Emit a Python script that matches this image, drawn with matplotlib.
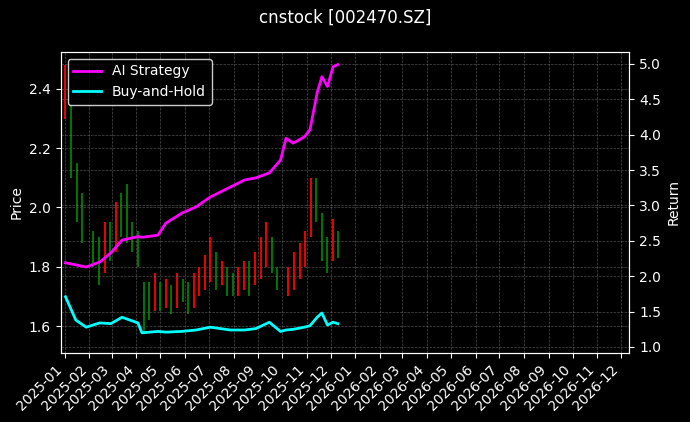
import matplotlib
matplotlib.use('Agg')
import matplotlib.pyplot as plt
import matplotlib.dates as mdates
import pandas as pd

# weekly price bars
weeks = ['2025-01-02', '2025-01-09', '2025-01-16', '2025-01-23', '2025-02-06', '2025-02-13',
         '2025-02-20', '2025-02-27', '2025-03-06', '2025-03-13', '2025-03-20', '2025-03-27',
         '2025-04-03', '2025-04-10', '2025-04-17', '2025-04-24', '2025-05-01', '2025-05-08',
         '2025-05-15', '2025-05-22', '2025-05-29', '2025-06-05', '2025-06-12', '2025-06-19',
         '2025-06-26', '2025-07-03', '2025-07-10', '2025-07-17', '2025-07-24', '2025-07-31',
         '2025-08-07', '2025-08-14', '2025-08-21', '2025-08-28', '2025-09-04', '2025-09-11',
         '2025-09-18', '2025-09-25', '2025-10-09', '2025-10-16', '2025-10-23', '2025-10-30',
         '2025-11-06', '2025-11-13', '2025-11-20', '2025-11-27', '2025-12-04', '2025-12-10']
low = [2.30, 2.10, 1.95, 1.88, 1.80, 1.74, 1.78, 1.82, 1.85, 1.90, 1.88, 1.85,
       1.80, 1.58, 1.62, 1.65, 1.65, 1.66, 1.64, 1.66, 1.68, 1.64, 1.66, 1.70,
       1.72, 1.75, 1.72, 1.74, 1.70, 1.70, 1.70, 1.72, 1.70, 1.74, 1.76, 1.80,
       1.78, 1.72, 1.70, 1.72, 1.76, 1.80, 1.90, 1.95, 1.82, 1.78, 1.82, 1.83]
high = [2.48, 2.35, 2.15, 2.05, 1.92, 1.90, 1.95, 1.95, 2.02, 2.05, 2.08, 1.95,
        1.92, 1.75, 1.75, 1.78, 1.75, 1.76, 1.74, 1.78, 1.76, 1.75, 1.78, 1.80,
        1.84, 1.90, 1.85, 1.82, 1.80, 1.78, 1.80, 1.82, 1.82, 1.85, 1.90, 1.95,
        1.90, 1.80, 1.80, 1.85, 1.88, 1.92, 2.10, 2.10, 1.98, 1.90, 1.96, 1.92]
close = [2.35, 2.15, 2.00, 1.90, 1.85, 1.82, 1.90, 1.88, 1.98, 1.95, 1.92, 1.87,
         1.82, 1.70, 1.68, 1.72, 1.70, 1.70, 1.68, 1.72, 1.70, 1.67, 1.75, 1.76,
         1.80, 1.85, 1.76, 1.78, 1.74, 1.72, 1.75, 1.78, 1.76, 1.82, 1.86, 1.90,
         1.80, 1.74, 1.76, 1.80, 1.84, 1.88, 2.05, 2.00, 1.85, 1.82, 1.88, 1.86]

# cumulative return curves
ret_dates = ['2025-01-02', '2025-01-15', '2025-01-28', '2025-02-14', '2025-02-28', '2025-03-14',
             '2025-04-03', '2025-04-08', '2025-04-28', '2025-05-08', '2025-05-28', '2025-06-15',
             '2025-07-03', '2025-07-28', '2025-08-15', '2025-08-29', '2025-09-15', '2025-09-29',
             '2025-10-06', '2025-10-15', '2025-10-29', '2025-11-05', '2025-11-14', '2025-11-20',
             '2025-11-27', '2025-12-04', '2025-12-10']
ai = [2.19, 2.16, 2.13, 2.20, 2.33, 2.51, 2.56, 2.55, 2.58, 2.75, 2.89, 2.98,
      3.12, 3.26, 3.36, 3.39, 3.46, 3.64, 3.95, 3.88, 3.97, 4.07, 4.59, 4.82,
      4.68, 4.96, 4.99]
bh = [1.71, 1.38, 1.28, 1.34, 1.33, 1.42, 1.34, 1.20, 1.22, 1.21, 1.22, 1.24,
      1.28, 1.24, 1.24, 1.26, 1.35, 1.22, 1.24, 1.25, 1.28, 1.30, 1.42, 1.48,
      1.31, 1.35, 1.33]

wk = pd.to_datetime(weeks)
rd = pd.to_datetime(ret_dates)

plt.style.use('dark_background')
fig = plt.figure(figsize=(6.9, 4.22), dpi=100)
ax = fig.add_axes([0.088, 0.1635, 0.824, 0.7135])
prev = [close[0]] + close[:-1]
colors = ['red' if c >= p else 'green' for c, p in zip(close, prev)]
ax.vlines(wk, low, high, colors=colors, linewidth=1.3)
ax.set_ylabel('Price')
ax.set_ylim(1.509, 2.525)
ax.grid(True, linestyle='--', linewidth=0.5, color='gray', alpha=0.6)

ax2 = ax.twinx()
ax2.plot(rd, ai, color='magenta', linewidth=2, label='AI Strategy')
ax2.plot(rd, bh, color='cyan', linewidth=2, label='Buy-and-Hold')
ax2.set_ylabel('Return')
ax2.set_ylim(0.915, 5.17)
ax2.grid(True, linestyle='--', linewidth=0.5, color='gray', alpha=0.6)
ax2.legend(loc='upper left', edgecolor='white')

ax.set_xlim(pd.Timestamp('2024-12-27'), pd.Timestamp('2026-12-11'))
ax.xaxis.set_major_locator(mdates.MonthLocator())
ax.xaxis.set_major_formatter(mdates.DateFormatter('%Y-%m'))
plt.setp(ax.get_xticklabels(), rotation=45, ha='right')

fig.suptitle('cnstock [002470.SZ]')
fig.savefig('out.png', dpi=100)
